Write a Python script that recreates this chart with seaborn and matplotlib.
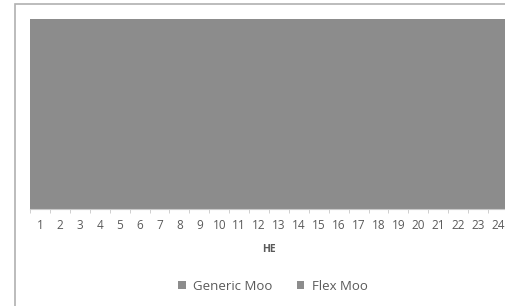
import numpy as np
import pandas as pd
import matplotlib.pyplot as plt
import seaborn as sns
from matplotlib.patches import Rectangle, Patch

# =========================
# Data
# =========================
hours = [str(h) for h in range(1, 25)]
generic_moo = [60] * 24
flex_moo = [40] * 24

df = pd.DataFrame({
    "HE": hours,
    "Generic Moo": generic_moo,
    "Flex Moo": flex_moo,
})
df["Total"] = df["Generic Moo"] + df["Flex Moo"]

bar_color = "#8c8c8c"
text_color = "#5a5a5a"

# =========================
# Figure
# =========================
sns.set_style("white")
plt.rcParams["font.family"] = ["Open Sans", "DejaVu Sans"]

fig = plt.figure(figsize=(5.06, 3.06), dpi=100)

# outer chart frame (cropped on the right and bottom)
fig.patches.append(Rectangle(
    (15 / 506, -0.1), 1.0, 1 - 4 / 306 + 0.1,
    transform=fig.transFigure, fill=False,
    edgecolor="#b0b0b0", linewidth=1.2
))

ax = fig.add_axes([30 / 506, 1 - 209 / 306, 478 / 506, (209 - 19) / 306])

# stacked bars: total first, generic on top of it at the bottom
sns.barplot(data=df, x="HE", y="Total", color=bar_color,
            width=1.0, saturation=1, linewidth=1.5,
            edgecolor=bar_color, ax=ax)
sns.barplot(data=df, x="HE", y="Generic Moo", color=bar_color,
            width=1.0, saturation=1, linewidth=1.5,
            edgecolor=bar_color, ax=ax)

# no seams between neighbouring bars
for p in ax.patches:
    p.set_antialiased(False)

ax.set_xlim(-0.5, 23.5)
ax.set_ylim(0, df["Total"].max())

for s in ["top", "right", "left"]:
    ax.spines[s].set_visible(False)
ax.spines["bottom"].set_color("#c8c8c8")

ax.set_yticks([])
ax.set_ylabel("")
ax.set_xticks(range(24))
ax.set_xticklabels(hours)
ax.set_xticks(np.arange(-0.5, 23.6, 1), minor=True)
ax.tick_params(axis="x", which="major", length=0, pad=7,
               labelsize=8.5, labelcolor=text_color)
ax.tick_params(axis="x", which="minor", length=3, color="#c8c8c8",
               direction="out", bottom=True)

ax.set_xlabel("HE", fontsize=7.5, fontweight="bold",
              color=text_color, labelpad=9)

handles = [
    Patch(facecolor=bar_color, edgecolor="none", label="Generic Moo"),
    Patch(facecolor=bar_color, edgecolor="none", label="Flex Moo"),
]
fig.legend(handles=handles, loc="center", ncol=2,
           bbox_to_anchor=(273 / 506, 1 - 286 / 306),
           frameon=False, fontsize=9.5, labelcolor=text_color,
           handlelength=0.55, handleheight=0.55, handletextpad=0.6,
           columnspacing=1.8)

plt.savefig("out.png", dpi=100)
